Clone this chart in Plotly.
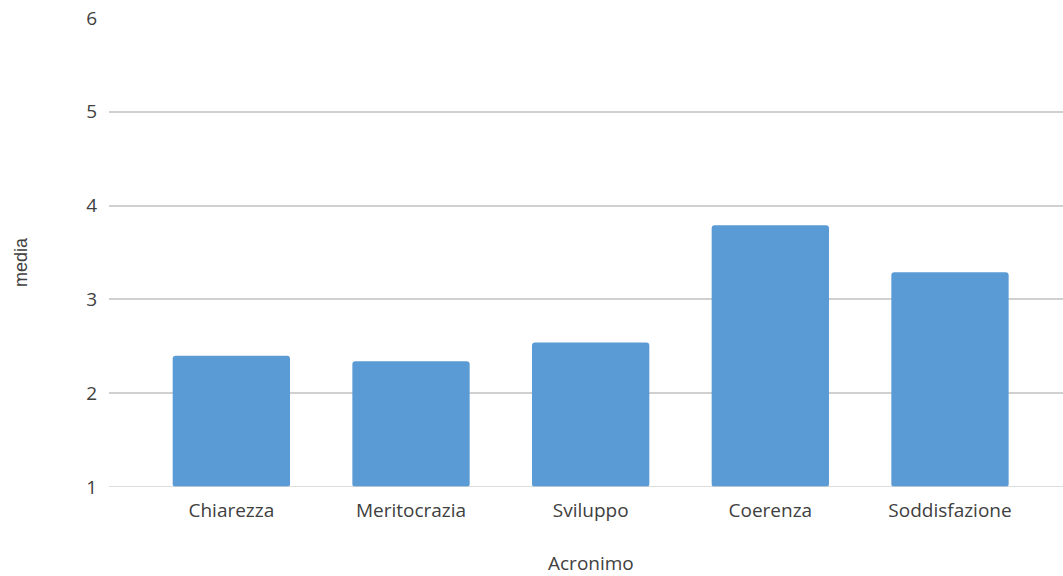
import plotly.graph_objects as go

# Mean score per dimension
categorie = ["Chiarezza", "Meritocrazia", "Sviluppo", "Coerenza", "Soddisfazione"]
media = [2.40, 2.34, 2.54, 3.79, 3.29]
y_ticks = [1, 2, 3, 4, 5, 6]

W, H = 1063, 576
left, right, top, bottom = 109, 0, 18, 89
plot_w = W - left - right
plot_h = H - top - bottom

fig = go.Figure(
    go.Bar(
        x=list(range(len(categorie))),
        y=[v - 1 for v in media],
        base=1,
        width=0.653,
        marker=dict(color="#5b9bd5", line=dict(width=0), cornerradius=3),
        hoverinfo="skip",
    )
)

font_main = "Open Sans, Noto Sans, sans-serif"

fig.update_layout(
    width=W,
    height=H,
    margin=dict(l=left, r=right, t=top, b=bottom),
    paper_bgcolor="white",
    plot_bgcolor="white",
    showlegend=False,
    font=dict(family=font_main, size=19, color="#404040"),
    xaxis=dict(
        range=[-0.681, 4.629],
        tickmode="array",
        tickvals=list(range(len(categorie))),
        ticktext=categorie,
        showgrid=False,
        zeroline=False,
        showline=False,
        ticks="",
        ticklabelstandoff=10,
        tickfont=dict(size=19, color="#404040"),
    ),
    yaxis=dict(
        range=[1, 6],
        tickmode="array",
        tickvals=y_ticks,
        ticktext=[str(t) for t in y_ticks],
        showgrid=True,
        gridcolor="#d0d0d0",
        gridwidth=1.6,
        zeroline=False,
        showline=False,
        ticks="",
        ticklabelstandoff=11,
        tickfont=dict(size=19, color="#404040"),
    ),
    annotations=[
        dict(
            text="Acronimo",
            xref="paper", yref="paper",
            x=(591 - left) / plot_w,
            y=-(563 - (top + plot_h)) / plot_h,
            xanchor="center", yanchor="middle",
            showarrow=False,
            font=dict(family=font_main, size=19, color="#404040"),
        ),
        dict(
            text="media",
            xref="paper", yref="paper",
            x=(21 - left) / plot_w,
            y=1 - (262 - top) / plot_h,
            xanchor="center", yanchor="middle",
            textangle=-90,
            showarrow=False,
            font=dict(family="Liberation Sans, Arial, sans-serif", size=18, color="#404040"),
        ),
    ],
)

# Horizontal gridline at the baseline value
fig.add_shape(
    type="line", xref="paper", yref="y",
    x0=0, x1=1, y0=1, y1=1,
    line=dict(color="#d0d0d0", width=1.6),
    layer="above",
)

fig.write_html("out.html")
